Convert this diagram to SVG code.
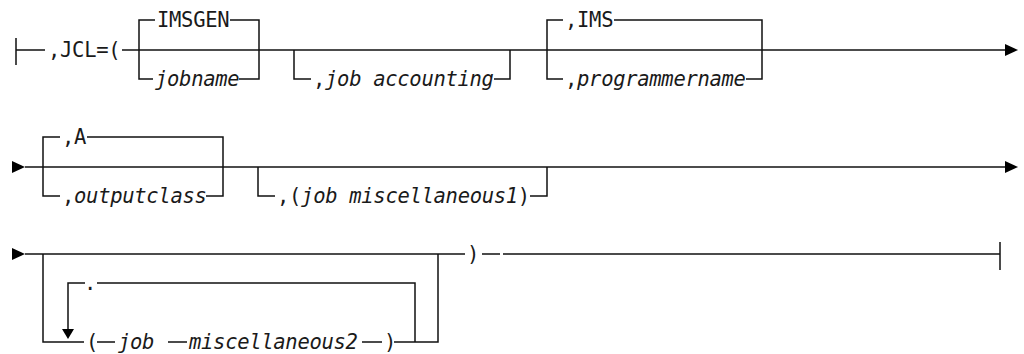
<svg xmlns="http://www.w3.org/2000/svg" width="1024" height="354" viewBox="0 0 1024 354">
<defs>
<style>
.t{font-family:"DejaVu Sans Mono","Liberation Mono",monospace;font-size:20.5px;letter-spacing:-0.3px;fill:#1a1a1a}
.i{font-style:italic}
.l{stroke:#111;stroke-width:1.5;fill:none}
.a{fill:#000}
</style>
</defs>
<rect width="1024" height="354" fill="#fff"/>
<g id="connectors">
<!-- row 1 -->
<path class="l" d="M16,38V65M16,50H45"/>
<path class="l" d="M122,50H1005"/>
<path class="l" d="M139,50V20H155M230,20H259V50M139,50V79H153M239,79H259V50"/>
<path class="l" d="M294,50V79H311M494,79H510V50"/>
<path class="l" d="M547,50V20H563M614,20H762V50M547,50V79H563M746,79H762V50"/>
<polygon class="a" points="1005,44 1018,50 1005,56"/>
<!-- row 2 -->
<polygon class="a" points="12,161 25,167 12,173"/>
<path class="l" d="M25,167H1005"/>
<path class="l" d="M43,167V137H60M87,137H223V167M43,167V196H60M206,196H223V167"/>
<path class="l" d="M258,167V196H275M530,196H547V167"/>
<polygon class="a" points="1005,161 1018,167 1005,173"/>
<!-- row 3 -->
<polygon class="a" points="12,248 25,254 12,260"/>
<path class="l" d="M25,254H465"/>
<path class="l" d="M43,254V342H84M438,254V342H394"/>
<path class="l" d="M415,342V283H97M85,283H68V330"/>
<polygon class="a" points="62,329 74,329 68,339"/>
<path class="l" d="M97,342H115M168,342H187M362,342H382"/>
<path class="l" d="M482,254H500M503,254H1000M1000,242V270"/>
</g>
<g id="start"><text class="t" x="48" y="57">,JCL=(</text></g>
<g id="imsgen"><text class="t" x="157" y="27">IMSGEN</text></g>
<g id="jobname"><text class="t i" x="155" y="86">jobname</text></g>
<g id="jobaccounting"><text class="t" x="313" y="86">,<tspan class="i">job accounting</tspan></text></g>
<g id="ims"><text class="t" x="565" y="27">,IMS</text></g>
<g id="programmername"><text class="t" x="565" y="86">,<tspan class="i">programmername</tspan></text></g>
<g id="a"><text class="t" x="62" y="144">,A</text></g>
<g id="outputclass"><text class="t" x="62" y="203">,<tspan class="i">outputclass</tspan></text></g>
<g id="misc1"><text class="t" x="277" y="203">,(<tspan class="i">job miscellaneous1</tspan>)</text></g>
<g id="sep"><text class="t" x="84" y="290">.</text></g>
<g id="misc2">
<text class="t" x="86" y="349">(</text>
<text class="t i" x="118" y="349">job</text>
<text class="t i" x="189" y="349">miscellaneous2</text>
<text class="t" x="384" y="349">)</text>
</g>
<g id="close"><text class="t" x="467" y="261">)</text></g>
</svg>
